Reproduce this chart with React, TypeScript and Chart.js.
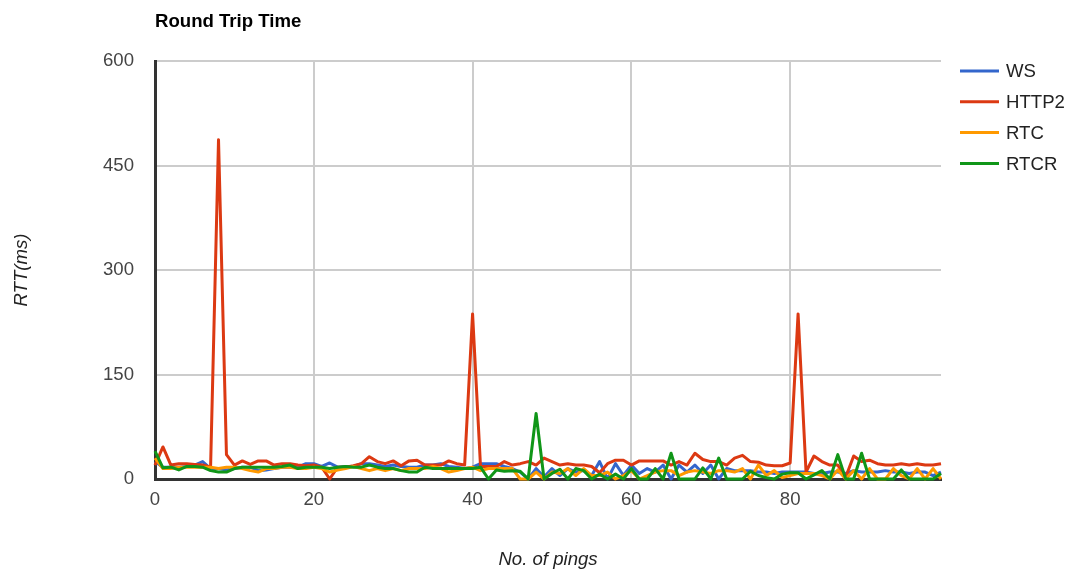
import React, { useEffect, useRef } from "react";
import { Chart, registerables } from "chart.js";

Chart.register(...registerables);

const pings: number[] = Array.from({ length: 100 }, (_, i) => i);

const seriesNames = ["WS", "HTTP2", "RTC", "RTCR"];
const seriesColors = ["#3366cc", "#dc3912", "#ff9900", "#109618"];

const wsValues = [
  25, 17, 17, 17, 18, 20, 25, 15, 15, 13,
  15, 17, 17, 12, 13, 15, 17, 17, 17, 22,
  22, 18, 23, 17, 18, 18, 22, 22, 20, 18,
  20, 18, 17, 17, 20, 20, 22, 18, 17, 15,
  17, 22, 22, 22, 18, 15, 10, 0, 15, 3,
  15, 5, 15, 10, 12, 5, 25, 0, 22, 5,
  20, 8, 15, 10, 20, 0, 20, 10, 20, 8,
  20, 0, 15, 12, 12, 12, 10, 10, 8, 10,
  10, 10, 10, 8, 8, 10, 10, 8, 12, 10,
  10, 10, 12, 10, 10, 8, 10, 10, 5, 10,
];

const http2Values = [
  20, 46, 20, 22, 22, 21, 20, 17, 487, 35,
  20, 26, 21, 26, 26, 20, 22, 22, 20, 19,
  20, 17, 0, 17, 17, 19, 22, 32, 25, 22,
  26, 19, 26, 27, 20, 20, 20, 26, 22, 20,
  237, 18, 18, 18, 25, 20, 22, 25, 20, 30,
  25, 20, 22, 20, 20, 18, 9, 22, 27, 27,
  20, 26, 26, 26, 26, 20, 25, 20, 37, 28,
  25, 25, 20, 30, 34, 25, 24, 20, 19, 19,
  23, 237, 10, 33, 25, 20, 20, 3, 33, 25,
  27, 22, 20, 20, 22, 20, 22, 20, 20, 22,
];

const rtcValues = [
  30, 15, 15, 17, 17, 17, 17, 17, 15, 17,
  17, 15, 12, 10, 15, 15, 17, 17, 15, 15,
  17, 15, 10, 13, 15, 18, 15, 12, 15, 12,
  15, 12, 15, 15, 15, 18, 15, 10, 12, 15,
  17, 12, 15, 15, 15, 15, 0, 0, 10, 0,
  10, 8, 15, 5, 15, 5, 5, 10, 0, 5,
  12, 0, 5, 10, 12, 12, 5, 10, 12, 10,
  8, 12, 12, 10, 15, 0, 20, 5, 12, 2,
  5, 8, 8, 8, 5, 0, 13, 0, 12, 0,
  15, 0, 0, 15, 5, 0, 15, 0, 15, 0,
];

const rtcrValues = [
  40, 16, 17, 13, 18, 18, 17, 12, 10, 10,
  15, 17, 17, 17, 17, 17, 18, 20, 15, 17,
  17, 17, 15, 17, 18, 17, 17, 20, 17, 15,
  15, 12, 10, 10, 17, 15, 15, 15, 15, 15,
  15, 17, 0, 13, 11, 12, 11, 0, 94, 0,
  8, 14, 0, 15, 12, 0, 7, 0, 7, 0,
  15, 0, 0, 15, 0, 37, 0, 0, 0, 16,
  0, 30, 0, 0, 0, 11, 5, 2, 0, 7,
  9, 9, 0, 6, 12, 0, 35, 0, 0, 37,
  0, 0, 0, 0, 13, 0, 0, 0, 0, 8,
];

const yTicks = [0, 150, 300, 450, 600];
const xTicks = [0, 20, 40, 60, 80];

const chartTitle = "Round Trip Time";
const xTitle = "No. of pings";
const yTitle = "RTT(ms)";

const FONT = "'Liberation Sans', Arial, sans-serif";

export default function App() {
  const ref = useRef<HTMLCanvasElement | null>(null);

  useEffect(() => {
    if (!ref.current) return;
    const allValues = [wsValues, http2Values, rtcValues, rtcrValues];

    const overlay = {
      id: "overlay",
      afterDraw(chart: any) {
        const ctx = chart.ctx;
        ctx.save();
        ctx.fillStyle = "#000";
        ctx.font = `bold 18.6px ${FONT}`;
        ctx.textAlign = "left";
        ctx.textBaseline = "alphabetic";
        ctx.fillText(chartTitle, 155, 27);

        ctx.font = `18.6px ${FONT}`;
        ctx.textBaseline = "middle";
        seriesNames.forEach((name, i) => {
          const y = 71 + i * 30.8;
          ctx.strokeStyle = seriesColors[i];
          ctx.lineWidth = 3;
          ctx.beginPath();
          ctx.moveTo(960, y);
          ctx.lineTo(999, y);
          ctx.stroke();
          ctx.fillStyle = "#222";
          ctx.fillText(name, 1006, y + 1);
        });
        ctx.restore();
      },
    };

    const chart = new Chart(ref.current, {
      type: "line",
      data: {
        labels: pings,
        datasets: seriesNames.map((name, i) => ({
          label: name,
          data: pings.map((x, j) => ({ x, y: allValues[i][j] })),
          borderColor: seriesColors[i],
          backgroundColor: seriesColors[i],
          borderWidth: 3,
          borderJoinStyle: "round",
          pointRadius: 0,
          tension: 0,
          fill: false,
          clip: false as any,
          order: 4 - i,
        })),
      },
      options: {
        animation: false,
        responsive: false,
        maintainAspectRatio: false,
        layout: { padding: { top: 61, right: 132, left: 0, bottom: 0 } },
        plugins: {
          legend: { display: false },
          title: { display: false },
          tooltip: { enabled: false },
        },
        scales: {
          x: {
            type: "linear",
            min: 0,
            max: 99,
            afterBuildTicks: (scale: any) => {
              scale.ticks = xTicks.map((v) => ({ value: v }));
            },
            afterFit: (scale: any) => {
              scale.height = 95;
            },
            ticks: {
              color: "#444",
              font: { family: FONT, size: 18.6 },
              padding: 10,
              maxRotation: 0,
            },
            grid: {
              color: "#cccccc",
              lineWidth: 2,
              drawTicks: false,
            },
            border: { display: true, color: "#333", width: 3 },
            title: {
              display: true,
              text: xTitle,
              color: "#222",
              font: { family: FONT, size: 18.6, style: "italic" },
              padding: { top: 0, bottom: 3 },
            },
          },
          y: {
            min: 0,
            max: 600,
            afterBuildTicks: (scale: any) => {
              scale.ticks = yTicks.map((v) => ({ value: v }));
            },
            afterFit: (scale: any) => {
              scale.width = 155;
            },
            ticks: {
              color: "#444",
              font: { family: FONT, size: 18.6 },
              padding: 21,
            },
            grid: {
              color: "#cccccc",
              lineWidth: 2,
              drawTicks: false,
            },
            border: { display: true, color: "#333", width: 3 },
            title: {
              display: true,
              text: yTitle,
              color: "#222",
              font: { family: FONT, size: 18.6, style: "italic" },
              padding: { top: 11, bottom: 0 },
            },
          },
        },
      },
      plugins: [overlay],
    } as any);

    return () => chart.destroy();
  }, []);

  return (
    <div style={{ position: "fixed", left: 0, top: 0, width: 1073, height: 574, background: "#fff" }}>
      <canvas ref={ref} width={1073} height={574} style={{ width: 1073, height: 574, display: "block" }} />
    </div>
  );
}
